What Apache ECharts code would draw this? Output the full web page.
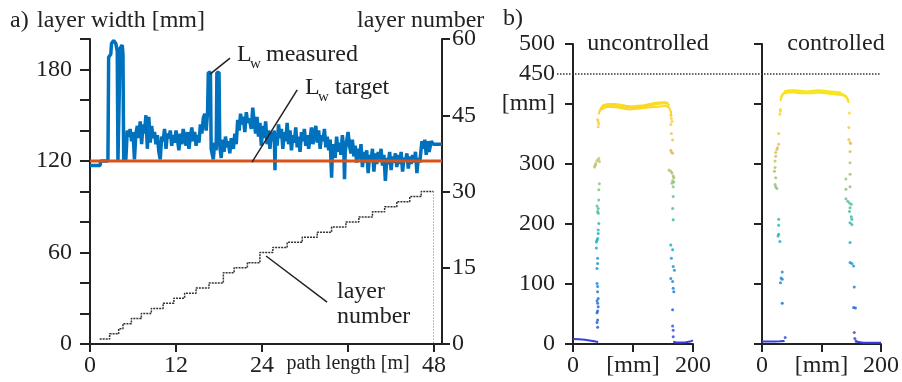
<!DOCTYPE html>
<html>
<head>
<meta charset="utf-8">
<script src="https://cdn.jsdelivr.net/npm/echarts@6/dist/echarts.min.js"></script>
<style>
  html, body { margin: 0; padding: 0; background: #fff; }
  #chart { width: 902px; height: 382px; }
</style>
</head>
<body>
<div id="chart"></div>
<script>
// ---- panel a data ----
const pathTicks = [0, 12, 24, 36, 48];
const widthTicks = [0, 60, 120, 180];
const layerTicks = [0, 15, 30, 45, 60];

// measured layer width [path length m, width mm]
const layerWidth = [
  [0,117],[1.4,117],[1.5,120],[2.5,120],[2.6,188],[2.9,190],[3.0,197],[3.3,199],[3.6,197],[3.8,192],
  [3.9,120],[4.1,120],[4.2,194],[4.5,196],[4.6,190],[4.7,121],[5.0,121],[5.2,140],[5.4,136],[5.6,141],
  [5.8,133],[6.0,139],[6.2,121],[6.4,138],[6.6,143],[6.8,135],[7.0,146],[7.2,131],[7.4,144],[7.6,138],
  [7.8,150],[8.0,128],[8.2,149],[8.4,132],[8.6,143],[8.8,135],[9.0,139],[9.2,131],[9.4,137],[9.6,126],
  [9.8,121],[10.0,136],[10.2,133],[10.4,141],[10.6,128],[10.8,138],[11.0,135],[11.2,140],[11.4,130],[11.6,137],
  [11.8,132],[12.0,140],[12.2,134],[12.4,127],[12.6,138],[12.8,131],[13.0,141],[13.2,135],[13.4,130],[13.6,139],
  [13.8,128],[14.0,136],[14.2,142],[14.4,133],[14.6,139],[14.8,130],[15.0,137],[15.2,132],[15.4,144],[15.6,138],
  [15.8,148],[16.0,151],[16.2,140],[16.4,152],[16.5,178],[16.8,178],[16.9,128],[17.2,121],[17.4,132],[17.6,127],
  [17.7,178],[18.0,178],[18.1,130],[18.3,122],[18.5,134],[18.7,126],[18.9,136],[19.1,129],[19.3,133],[19.5,125],
  [19.7,135],[20.0,128],[20.2,138],[20.4,131],[20.6,147],[20.8,140],[21.0,151],[21.2,144],[21.4,149],[21.6,139],
  [21.8,152],[22.0,145],[22.2,148],[22.5,141],[22.7,155],[22.9,146],[23.1,138],[23.3,149],[23.5,136],[23.7,145],
  [23.9,130],[24.1,143],[24.3,135],[24.5,146],[24.7,131],[24.9,140],[25.1,128],[25.3,139],[25.5,133],[25.7,140],
  [25.8,114],[25.9,138],[26.1,130],[26.3,144],[26.5,135],[26.7,141],[26.9,128],[27.1,139],[27.3,133],[27.5,145],
  [27.7,131],[27.9,140],[28.1,127],[28.3,137],[28.5,132],[28.7,142],[28.9,129],[29.1,136],[29.3,126],[29.5,139],
  [29.7,133],[29.9,141],[30.1,130],[30.3,137],[30.5,128],[30.7,135],[30.9,142],[31.1,131],[31.3,138],[31.5,143],
  [31.7,132],[31.9,140],[32.1,128],[32.3,137],[32.5,133],[32.7,141],[32.9,129],[33.1,136],[33.3,127],[33.5,134],
  [33.7,109],[33.8,125],[34.0,131],[34.2,122],[34.4,136],[34.6,126],[34.8,132],[35.0,124],[35.2,137],[35.4,128],
  [35.5,108],[35.6,126],[35.8,133],[36.0,139],[36.2,130],[36.4,125],[36.6,134],[36.8,123],[37.0,130],[37.2,119],
  [37.4,128],[37.6,121],[37.8,131],[38.0,116],[38.2,126],[38.4,119],[38.6,127],[38.8,112],[39.0,124],[39.2,120],
  [39.4,128],[39.6,113],[39.8,125],[40.0,118],[40.2,126],[40.4,121],[40.6,128],[40.8,117],[41.0,124],[41.2,107],
  [41.4,122],[41.6,118],[41.8,126],[42.0,114],[42.2,123],[42.4,119],[42.6,125],[42.8,116],[43.0,124],[43.2,118],
  [43.4,126],[43.6,113],[43.8,122],[44.0,120],[44.2,125],[44.4,115],[44.6,123],[44.8,118],[45.0,124],[45.2,119],
  [45.4,126],[45.6,112],[45.8,122],[46.0,119],[46.3,133],[46.5,128],[46.7,134],[46.9,124],[47.1,133],[47.3,126],
  [47.6,133],[47.9,131],[48.1,131],[49.1,131]
];
const widthTarget = [[0,120],[49.1,120]];

// layer number steps
const layerStart = [1.35, 2.74, 4.0, 4.6, 5.77, 7.16, 8.56, 10.2, 11.7, 13.2, 14.8, 16.6, 18.6, 20.1,
  21.95, 23.7, 25.5, 27.5, 29.6, 31.7, 33.7, 35.7, 37.5, 39.4, 41.1, 42.8, 44.6, 46.2];
const layerNo = [1, 2, 3, 4, 5, 6, 7, 8, 9, 10, 11, 12, 14, 15,
  16, 18, 19, 20, 21, 22, 23, 24, 25, 26, 27, 28, 29, 30];
const layerEnd = 47.9;

// annotation leader lines (data coords, left axis)
const measuredLeader = [[16.74,177],[19.53,187.5]];
const targetLeader = [[22.6,119.3],[28.9,166.6]];
const layerLeader = [[24.56,57.7],[33.07,27.5]];

// ---- panel b data ----
const mmTicks = [0, 100, 200];
const heightTicks = [0, 100, 200, 300, 400, 500];
const heightLabels = [0, 100, 200, 300, 400, 450, 500];
const limit450 = [[0,450],[1,450]];

const uncWalls = [
  [41,28],[40,36],[41,40],[40,52],[41,55],[42,62],[41,68],[40,72],[42,76],[41,87],[41,96],[40,101],
  [40,126],[41,134],[41,143],[39,160],[39,170],[40,173],[41,176],[42,184],[42,190],[43,201],[42,218],
  [41,221],[42,226],[40,230],[43,240],[43,257],[44,267],[36,295],[37,298],[38,301],[40,306],[43,309],
  [44,304],[42,362],[43,367],[42,371],[41,374],
  [163,381],[164,376],[165,371],[163,366],[164,351],[166,340],[163,323],[164,320],[166,318],[160,290],
  [163,288],[165,285],[167,280],[168,277],[166,272],[165,268],[167,262],[168,270],[167,246],[166,226],
  [167,207],[163,165],[166,157],[164,143],[167,129],[169,123],[163,109],[166,104],[167,93],[168,87],
  [166,57],[166,30],[167,23],[167,12]
];
const uncBaseL = [[0,8.5],[10,8],[20,7],[30,5.5],[38,4],[42,3.5]];
const uncBaseR = [[167,4],[172,2.5],[180,2.5],[188,3],[195,4],[200,6]];
const uncTopA = [[43,383],[45,390],[48,393],[55,395],[65,395],[75,394],[85,392],[95,391],[105,392],
  [115,393],[125,394],[135,395],[145,396],[155,397],[160,394],[163,388],[164,380]];
const uncTopB = [[44,387],[47,394],[52,397],[60,398],[70,397],[80,396],[90,394],[100,394],[110,395],
  [120,396],[130,398],[140,400],[150,401],[157,401],[161,397]];
const uncTopC = [[46,392],[50,398],[58,400],[68,400],[78,399],[88,397],[98,396],[108,397],[118,398],
  [128,400],[138,402],[148,403],[155,403],[159,401]];

const conWalls = [
  [31,391],[31,388],[30,383],[28,351],[28,333],[26,327],[25,324],[23,319],[23,313],[22,305],[22,294],
  [21,288],[23,277],[22,266],[23,262],[25,259],[28,208],[28,198],[28,183],[27,180],[30,171],[34,120],
  [32,110],[34,108],[31,102],[34,68],[39,11],
  [147,385],[146,361],[146,341],[148,336],[149,334],[148,321],[148,302],[148,283],[141,275],[148,262],
  [141,258],[141,242],[144,238],[147,235],[150,233],[148,227],[147,221],[150,212],[151,208],[151,199],
  [148,202],[148,169],[148,136],[151,134],[154,130],[155,95],[154,61],[157,60],[155,19],[156,9],[158,5]
];
const conBaseL = [[0,4],[10,4],[20,4],[30,4.5],[38,5]];
const conBaseR = [[157,4],[160,2],[170,2],[180,2],[190,2],[200,2]];
const conTopA = [[31,405],[33,414],[38,418],[45,419],[55,419],[65,418],[75,418],[85,418],[95,419],
  [105,418],[115,417],[125,416],[135,415],[140,413],[143,409],[146,402]];
const conTopB = [[32,410],[35,417],[40,421],[50,422],[60,421],[70,420],[80,420],[90,421],[100,421],
  [110,420],[120,419],[130,418],[137,416],[142,412],[145,406]];
const conTopC = [[37,421],[45,423],[55,423],[65,422],[75,421],[85,422],[95,423],[105,422],[115,421],
  [125,420],[133,419]];

const parula = ['#3b3bdc', '#0f5cdd', '#1481d6', '#06a4ca', '#2eb7a4', '#87bf77', '#d1bb59', '#fec832', '#f6e61a'];

const FONT = 'Liberation Serif';
const INK = '#222';

const axisBase = {
  axisLine: { lineStyle: { color: INK, width: 2 } },
  axisTick: { length: 8, lineStyle: { color: INK, width: 2 } },
  axisLabel: { fontFamily: FONT, fontSize: 24, color: INK },
  splitLine: { show: false }
};

function axis(extra) {
  const a = Object.assign({}, axisBase, extra);
  a.axisLine = Object.assign({}, axisBase.axisLine, extra.axisLine || {});
  a.axisTick = Object.assign({}, axisBase.axisTick, extra.axisTick || {});
  a.axisLabel = Object.assign({}, axisBase.axisLabel, extra.axisLabel || {});
  return a;
}

const steps = layerStart.map((x, i) => [x, layerNo[i]]).concat([[layerEnd, layerNo[layerNo.length - 1]]]);

function leader(pts) {
  return [{ coord: pts[0] }, { coord: pts[1] }];
}

// one scatter for the wall points, lines for the base and the top passes
function profileSeries(xIdx, yIdx, walls, baseL, baseR, tops) {
  const out = [{
    type: 'scatter', xAxisIndex: xIdx, yAxisIndex: yIdx,
    symbolSize: 3, data: walls
  }];
  [baseL, baseR].concat(tops).forEach(d => {
    out.push({
      type: 'line', xAxisIndex: xIdx, yAxisIndex: yIdx,
      showSymbol: false, lineStyle: { width: 2 }, data: d
    });
  });
  return out;
}

const bSeries = profileSeries(1, 2, uncWalls, uncBaseL, uncBaseR, [uncTopA, uncTopB, uncTopC])
  .concat(profileSeries(2, 3, conWalls, conBaseL, conBaseR, [conTopA, conTopB, conTopC]));

const textEl = (t, x, y, size, align) => ({
  type: 'text', x: x, y: y,
  style: { text: t, font: size + 'px "' + FONT + '"', fill: INK, verticalAlign: 'middle', align: align || 'left' }
});

const chart = echarts.init(document.getElementById('chart'));

const option = {
  animation: false,
  grid: [
    { left: 90, top: 39, width: 352, height: 305 },
    { left: 573, top: 44, width: 120, height: 300 },
    { left: 762, top: 44, width: 120, height: 300 },
    { left: 557, top: 44, width: 323, height: 300 }
  ],
  xAxis: [
    axis({
      gridIndex: 0, type: 'value', min: 0, max: 49.1,
      axisTick: { customValues: pathTicks },
      axisLabel: {
        customValues: pathTicks, margin: 10,
        formatter: v => v === 36 ? '{s|path length [m]}' : String(v),
        rich: { s: { fontFamily: FONT, fontSize: 20, color: INK } }
      }
    }),
    axis({
      gridIndex: 1, type: 'value', min: 0, max: 200, interval: 100,
      axisLabel: { margin: 10, formatter: v => v === 100 ? '[mm]' : String(v) }
    }),
    axis({
      gridIndex: 2, type: 'value', min: 0, max: 200, interval: 100,
      axisLabel: { margin: 10, formatter: v => v === 100 ? '[mm]' : String(v) }
    }),
    { gridIndex: 3, type: 'value', min: 0, max: 1, show: false }
  ],
  yAxis: [
    axis({
      gridIndex: 0, type: 'value', min: 0, max: 200, interval: 20,
      axisTick: { length: 10 },
      axisLabel: { margin: 18, formatter: v => widthTicks.indexOf(v) >= 0 ? String(v) : '' }
    }),
    axis({
      gridIndex: 0, type: 'value', position: 'right', min: 0, max: 60, interval: 15,
      axisLabel: { margin: 10 }
    }),
    axis({
      gridIndex: 1, type: 'value', min: 0, max: 500,
      axisTick: { customValues: heightTicks },
      axisLabel: { customValues: heightLabels, margin: 18, formatter: v => v === 400 ? '[mm]' : String(v) }
    }),
    axis({
      gridIndex: 2, type: 'value', min: 0, max: 500,
      axisTick: { customValues: heightTicks },
      axisLabel: { show: false }
    }),
    { gridIndex: 3, type: 'value', min: 0, max: 500, show: false }
  ],
  visualMap: {
    type: 'continuous', show: false, dimension: 1, min: 0, max: 420,
    seriesIndex: bSeries.map((s, i) => i + 4),
    inRange: { color: parula }
  },
  series: [
    {
      name: 'Lw measured', type: 'line', xAxisIndex: 0, yAxisIndex: 0,
      showSymbol: false, lineStyle: { color: '#0072bd', width: 3.5 }, itemStyle: { color: '#0072bd' },
      data: layerWidth,
      markLine: {
        silent: true, symbol: ['none', 'none'], label: { show: false },
        lineStyle: { color: INK, width: 1.5, type: 'solid' },
        data: [leader(measuredLeader), leader(targetLeader), leader(layerLeader)]
      }
    },
    {
      name: 'Lw target', type: 'line', xAxisIndex: 0, yAxisIndex: 0,
      showSymbol: false, lineStyle: { color: '#d95319', width: 3 }, data: widthTarget
    },
    {
      name: 'layer number', type: 'line', xAxisIndex: 0, yAxisIndex: 1, step: 'end',
      showSymbol: false, lineStyle: { color: '#333', width: 1.5, type: [2, 1] }, data: steps,
      markLine: {
        silent: true, symbol: ['none', 'none'], label: { show: false },
        lineStyle: { color: '#777', width: 1, type: [1, 2] },
        data: [[{ coord: [layerEnd, layerNo[layerNo.length - 1]] }, { coord: [layerEnd, 0] }]]
      }
    },
    {
      type: 'line', xAxisIndex: 3, yAxisIndex: 4, showSymbol: false,
      lineStyle: { color: '#333', width: 1.5, type: 'dotted' }, data: limit450
    }
  ].concat(bSeries),
  graphic: [
    textEl('a)', 10, 21, 24),
    textEl('layer width [mm]', 37, 21, 24),
    textEl('layer number', 357, 21, 24),
    textEl('L', 237, 55, 24),
    textEl('w', 250, 64, 15),
    textEl('measured', 266, 55, 24),
    textEl('L', 305, 88, 24),
    textEl('w', 318, 97, 15),
    textEl('target', 335, 88, 24),
    textEl('layer', 337, 292, 24),
    textEl('number', 337, 317, 24),
    textEl('b)', 503, 19, 24),
    textEl('uncontrolled', 648, 44, 24, 'center'),
    textEl('controlled', 836, 44, 24, 'center')
  ]
};

chart.setOption(option);
</script>
</body>
</html>
